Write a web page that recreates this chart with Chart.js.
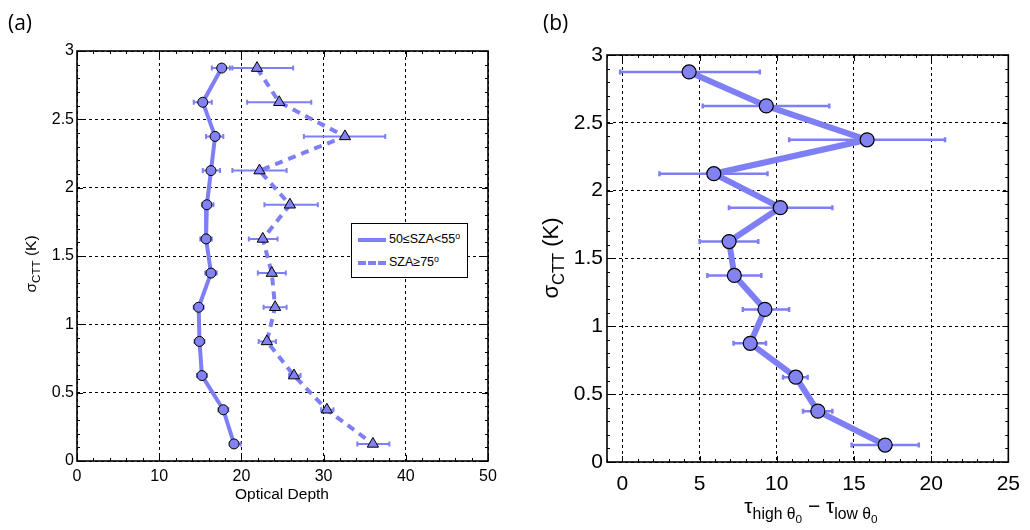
<!DOCTYPE html>
<html>
<head>
<meta charset="utf-8">
<script src="https://cdn.jsdelivr.net/npm/chart.js@4.4.0/dist/chart.umd.min.js"></script>
<style>
    body { margin: 0; background: #fff; }
    #wrap { position: relative; width: 1030px; height: 530px; overflow: hidden; font-family: 'Liberation Sans', Arial, sans-serif; }
    canvas { position: absolute; top: 0; }
    .lbl { position: absolute; white-space: nowrap; color: #000; }
    .panel { font-family: 'Open Sans', sans-serif; font-size: 21px; }
    .rot { transform: translate(-50%, -50%) rotate(-90deg); }
    sub { font-size: 0.75em; vertical-align: -0.35em; line-height: 0; }
    sup { font-size: 0.7em; vertical-align: 0.5em; line-height: 0; }
    #legend { position: absolute; left: 351px; top: 223px; width: 115px; height: 53px; border: 1.5px solid #000; background: #fff; font-size: 12.5px; }
    .row { position: absolute; left: 6px; height: 16px; line-height: 16px; }
    .swatch { display: inline-block; width: 28px; height: 0; vertical-align: middle; margin-right: 3px; border-top: 4px solid #7f7ff5; }
    .swatch.dash { border-top-style: dashed; }
</style>
</head>
<body>
<div id="wrap">
    <canvas id="chartA" width="515" height="530" style="left:0"></canvas>
    <canvas id="chartB" width="515" height="530" style="left:515px"></canvas>

    <div class="lbl panel" style="left:8px; top:8px;">(a)</div>
    <div class="lbl panel" style="left:543px; top:8px;">(b)</div>

    <div class="lbl" style="left:282px; top:485px; transform: translateX(-50%); font-size:15.5px;">Optical Depth</div>
    <div class="lbl rot" style="left:31px; top:264px; font-size:15.5px;">σ<sub>CTT</sub> (K)</div>

    <div class="lbl rot" style="left:551px; top:258px; font-size:22px;">σ<sub>CTT</sub> (K)</div>
    <div class="lbl" style="left:811px; top:494px; transform: translateX(-50%); font-size:21px;">τ<sub>high θ<sub>0</sub></sub> − τ<sub>low θ<sub>0</sub></sub></div>

    <div id="legend">
        <div class="row" style="top:7px"><span class="swatch"></span>50≤SZA&lt;55<sup>o</sup></div>
        <div class="row" style="top:30px"><span class="swatch dash"></span>SZA≥75<sup>o</sup></div>
    </div>
</div>
<script>
// Datos
const sigmaCTT = [2.875, 2.625, 2.375, 2.125, 1.875, 1.625, 1.375, 1.125, 0.875, 0.625, 0.375, 0.125];

// (a) 50<=SZA<55
const tauLowSza   = [17.6, 15.3, 16.8, 16.3, 15.8, 15.7, 16.3, 14.8, 14.9, 15.2, 17.8, 19.1];
const tauLowSzaLo = [16.4, 14.2, 15.7, 15.3, 15.2, 15.0, 15.6, 14.2, 14.3, 14.6, 17.2, 18.6];
const tauLowSzaHi = [18.9, 16.4, 17.8, 17.4, 16.6, 16.4, 17.0, 15.4, 15.5, 15.8, 18.4, 19.9];

// (a) SZA>=75
const tauHighSza   = [21.9, 24.6, 32.6, 22.2, 25.9, 22.6, 23.7, 24.1, 23.1, 26.4, 30.4, 36.0];
const tauHighSzaLo = [18.6, 20.7, 27.6, 18.9, 22.8, 20.9, 22.0, 22.7, 22.1, 25.8, 29.7, 34.1];
const tauHighSzaHi = [26.3, 28.5, 37.5, 25.5, 29.3, 24.4, 25.4, 25.5, 24.2, 27.2, 31.2, 38.0];

// (b) diferencia
const tauDiff   = [4.32, 9.32, 15.85, 5.92, 10.23, 6.91, 7.25, 9.23, 8.28, 11.23, 12.66, 17.02];
const tauDiffLo = [-0.15, 5.2, 10.8, 2.4, 6.9, 5.0, 5.5, 7.8, 7.2, 10.4, 11.7, 14.85];
const tauDiffHi = [8.9, 13.4, 20.9, 9.4, 13.6, 8.8, 9.0, 10.8, 9.3, 12.0, 13.6, 19.2];

// Ticks
const yTicks  = [0, 0.5, 1, 1.5, 2, 2.5, 3];
const xTicksA = [0, 10, 20, 30, 40, 50];
const xTicksB = [0, 5, 10, 15, 20, 25];

const azulLinea = '#7f7ff5';
const azulPunto = '#8282f0';

function puntos(xs) {
    return xs.map((v, i) => ({ x: v, y: sigmaCTT[i] }));
}

// barras de error horizontales
const errorBars = {
    id: 'errorBars',
    beforeDatasetsDraw(chart, args, opts) {
        const { ctx, scales: { x, y } } = chart;
        chart.data.datasets.forEach(ds => {
            if (!ds.errLo) return;
            ctx.save();
            ctx.strokeStyle = azulLinea;
            ctx.lineWidth = opts.width;
            ds.data.forEach((p, i) => {
                const py = y.getPixelForValue(p.y);
                const x0 = x.getPixelForValue(ds.errLo[i]);
                const x1 = x.getPixelForValue(ds.errHi[i]);
                ctx.beginPath();
                ctx.moveTo(x0, py); ctx.lineTo(x1, py);
                ctx.moveTo(x0, py - opts.cap); ctx.lineTo(x0, py + opts.cap);
                ctx.moveTo(x1, py - opts.cap); ctx.lineTo(x1, py + opts.cap);
                ctx.stroke();
            });
            ctx.restore();
        });
    }
};

// marco + ticks hacia dentro
const marco = {
    id: 'marco',
    afterDraw(chart, args, opts) {
        const { ctx, chartArea: a, scales: { x, y } } = chart;
        ctx.save();
        ctx.strokeStyle = '#000';
        ctx.lineWidth = 1;
        ctx.beginPath();
        for (let v = x.min; v <= x.max + 1e-9; v += opts.xMinor) {
            const px = Math.round(x.getPixelForValue(v)) + 0.5;
            const len = Math.abs(v / opts.xMajor - Math.round(v / opts.xMajor)) < 1e-6 ? 6 : 3;
            ctx.moveTo(px, a.bottom); ctx.lineTo(px, a.bottom - len);
            ctx.moveTo(px, a.top); ctx.lineTo(px, a.top + len);
        }
        for (let v = y.min; v <= y.max + 1e-9; v += 0.1) {
            const py = Math.round(y.getPixelForValue(v)) + 0.5;
            const len = Math.abs(v / 0.5 - Math.round(v / 0.5)) < 1e-6 ? 6 : 3;
            ctx.moveTo(a.left, py); ctx.lineTo(a.left + len, py);
            ctx.moveTo(a.right, py); ctx.lineTo(a.right - len, py);
        }
        ctx.stroke();
        ctx.lineWidth = 1.6;
        ctx.strokeRect(a.left, a.top, a.right - a.left, a.bottom - a.top);
        ctx.restore();
    }
};

function ejes(xMin, xMax, xTicks, fontSize, yWidth, xHeight, xPad, yPad) {
    const grid = { color: '#000', lineWidth: 1, drawTicks: false };
    const border = { display: false, dash: [3, 3] };
    const ticks = pad => ({
        color: '#000', padding: pad,
        font: { family: 'Liberation Sans', size: fontSize },
        callback: v => String(v)
    });
    return {
        x: {
            type: 'linear', min: xMin, max: xMax,
            afterBuildTicks: s => { s.ticks = xTicks.map(v => ({ value: v })); },
            afterFit: s => { s.height = xHeight; },
            grid, border, ticks: ticks(xPad)
        },
        y: {
            type: 'linear', min: 0, max: 3,
            afterBuildTicks: s => { s.ticks = yTicks.map(v => ({ value: v })); },
            afterFit: s => { s.width = yWidth; },
            grid, border, ticks: ticks(yPad)
        }
    };
}

new Chart(document.getElementById('chartA'), {
    type: 'scatter',
    data: {
        datasets: [
            {
                data: puntos(tauLowSza), errLo: tauLowSzaLo, errHi: tauLowSzaHi,
                showLine: true, borderColor: azulLinea, borderWidth: 4,
                pointStyle: 'circle', pointRadius: 5, pointBackgroundColor: azulPunto,
                pointBorderColor: '#000', pointBorderWidth: 1
            },
            {
                data: puntos(tauHighSza), errLo: tauHighSzaLo, errHi: tauHighSzaHi,
                showLine: true, borderColor: azulLinea, borderWidth: 4, borderDash: [8, 6],
                pointStyle: 'triangle', pointRadius: 6.5, pointBackgroundColor: azulPunto,
                pointBorderColor: '#000', pointBorderWidth: 1
            }
        ]
    },
    options: {
        responsive: false, animation: false,
        layout: { padding: { top: 51, right: 27, left: 0, bottom: 0 } },
        plugins: {
            legend: { display: false }, tooltip: { enabled: false },
            errorBars: { width: 2, cap: 2.5 },
            marco: { xMinor: 2, xMajor: 10 }
        },
        scales: ejes(0, 50, xTicksA, 16, 77, 69, 6, 3)
    },
    plugins: [errorBars, marco]
});

new Chart(document.getElementById('chartB'), {
    type: 'scatter',
    data: {
        datasets: [
            {
                data: puntos(tauDiff), errLo: tauDiffLo, errHi: tauDiffHi,
                showLine: true, borderColor: azulLinea, borderWidth: 6,
                pointStyle: 'circle', pointRadius: 7, pointBackgroundColor: azulPunto,
                pointBorderColor: '#000', pointBorderWidth: 1.2
            }
        ]
    },
    options: {
        responsive: false, animation: false,
        layout: { padding: { top: 55, right: 14, left: 0, bottom: 0 } },
        plugins: {
            legend: { display: false }, tooltip: { enabled: false },
            errorBars: { width: 2.5, cap: 2.5 },
            marco: { xMinor: 1, xMajor: 5 }
        },
        scales: ejes(-1, 25, xTicksB, 21, 92, 68, 10, 4)
    },
    plugins: [errorBars, marco]
});
</script>
</body>
</html>
